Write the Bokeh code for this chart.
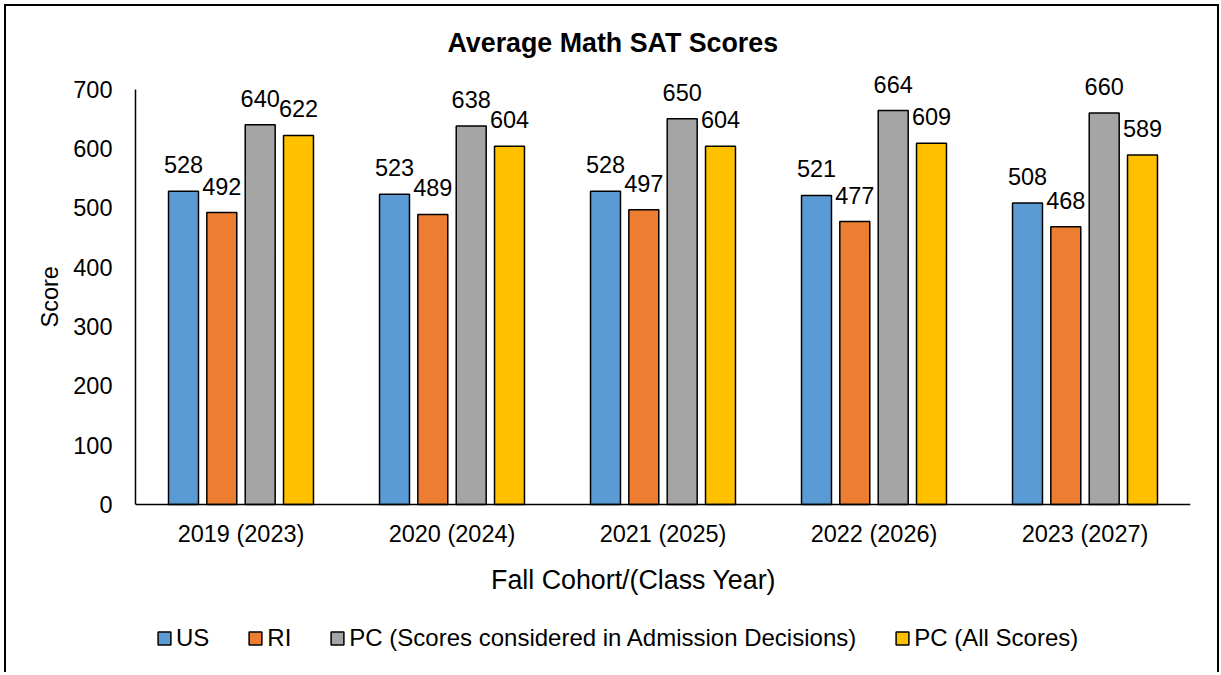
from bokeh.plotting import figure
from bokeh.models import (ColumnDataSource, FactorRange, Range1d, Legend, LegendItem,
                          LabelSet, Label, Title, SingleIntervalTicker)
from bokeh.transform import dodge
from bokeh.core.properties import value
from bokeh.embed import file_html
from bokeh.resources import INLINE

cohorts = ["2019 (2023)", "2020 (2024)", "2021 (2025)", "2022 (2026)", "2023 (2027)"]
series_names = ["US", "RI", "PC (Scores considered in Admission Decisions)", "PC (All Scores)"]
us = [528, 523, 528, 521, 508]
ri = [492, 489, 497, 477, 468]
pc_considered = [640, 638, 650, 664, 660]
pc_all = [622, 604, 604, 609, 589]
colors = ["#5B9BD5", "#ED7D31", "#A5A5A5", "#FFC000"]
offsets = [-0.2725, -0.091, 0.091, 0.2725]
BAR_W = 0.142

FONT = "Liberation Sans"

p = figure(x_range=FactorRange(factors=cohorts, range_padding=0),
           y_range=Range1d(-283, 750),
           width=1215, height=668,
           output_backend="svg", toolbar_location=None,
           min_border_left=131, min_border_right=29,
           min_border_top=55, min_border_bottom=0)
p.margin = (4, 0, 0, 4)
p.border_fill_color = None
p.background_fill_color = None
p.outline_line_color = None
p.styles = {"box-shadow": "inset 2px 2px 0 0 #000, inset -2px 0 0 0 #000"}

p.title.text = "Average Math SAT Scores"
p.title.text_font = FONT
p.title.text_font_size = "26.8px"
p.title.text_font_style = "bold"
p.title.text_color = "#000000"
p.title.align = "left"
p.title.offset = 312
p.title.standoff = 4

data = dict(cohort=cohorts, us=us, ri=ri, pcc=pc_considered, pca=pc_all)
for k in ["us", "ri", "pcc", "pca"]:
    data[k + "_lbl"] = [str(v) for v in data[k]]
src = ColumnDataSource(data)

renderers = []
for key, col, off in zip(["us", "ri", "pcc", "pca"], colors, offsets):
    r = p.vbar(x=dodge("cohort", off, range=p.x_range), top=key, width=BAR_W,
               source=src, fill_color=col, line_color="#000000", line_width=1.5)
    renderers.append(r)
    lbl = LabelSet(x=dodge("cohort", off, range=p.x_range), y=key, text=key + "_lbl",
                   source=src, text_align="center", text_baseline="alphabetic",
                   y_offset=18, text_font=value(FONT), text_font_size="23.5px",
                   text_color="#000000")
    p.add_layout(lbl)

p.xgrid.visible = False
p.ygrid.visible = False

p.yaxis.ticker = SingleIntervalTicker(interval=100)
p.yaxis.bounds = (0, 700)
p.xaxis.fixed_location = 0
for ax in (p.xaxis, p.yaxis):
    ax.major_tick_line_color = None
    ax.minor_tick_line_color = None
    ax.axis_line_color = "#000000"
    ax.axis_line_width = 1.5
    ax.major_label_text_font = FONT
    ax.major_label_text_font_size = "23.5px"
    ax.major_label_text_color = "#000000"
p.xaxis.major_label_standoff = 10
p.yaxis.major_label_standoff = 17

yt = Title(text="Score", align="left", offset=345, standoff=15,
           text_font=FONT, text_font_size="23.5px", text_font_style="normal",
           text_color="#000000")
p.add_layout(yt, "left")

xt = Label(text="Fall Cohort/(Class Year)", x=498, y=93, x_units="screen", y_units="screen",
           text_align="center", text_baseline="alphabetic",
           text_font=FONT, text_font_size="26.8px", text_color="#000000")
p.add_layout(xt)

items = [LegendItem(label=n, renderers=[r]) for n, r in zip(series_names, renderers)]
legend = Legend(items=items, orientation="horizontal", location=(21, 20),
                glyph_width=16, glyph_height=16, label_standoff=4, spacing=38,
                padding=0, margin=0, border_line_color=None, background_fill_alpha=0,
                label_text_font=FONT, label_text_font_size="24px",
                label_text_color="#000000")
p.add_layout(legend, "center")

open("out.html", "w").write(file_html(p, INLINE))
